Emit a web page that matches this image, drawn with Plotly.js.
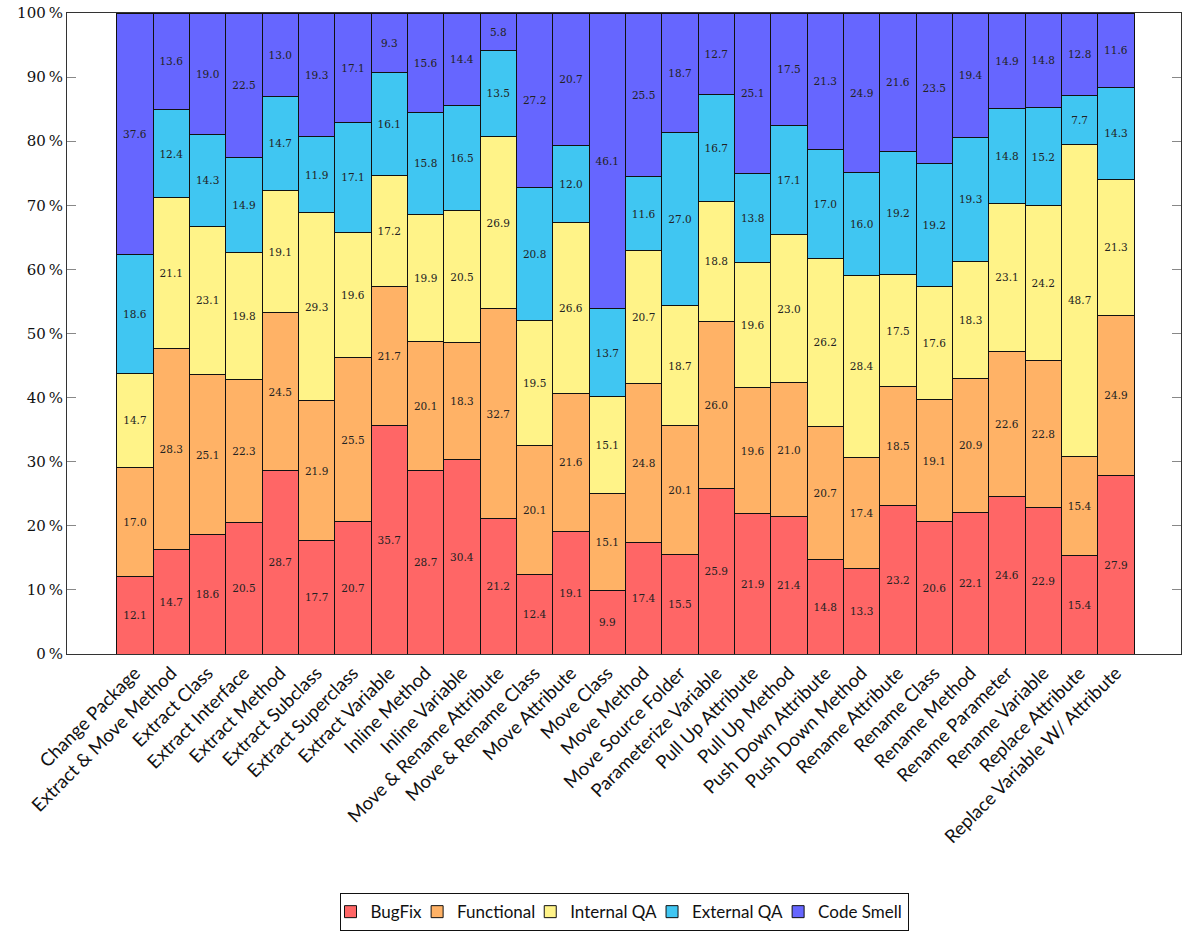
<!DOCTYPE html>
<html>
<head>
<meta charset="utf-8">
<script src="https://cdn.plot.ly/plotly-3.0.1.min.js"></script>
<style>html,body{margin:0;padding:0;background:#fff;}#chart{width:1182px;height:934px;}</style>
</head>
<body>
<div id="chart"></div>
<script>
const categories = ["Change Package","Extract & Move Method","Extract Class","Extract Interface","Extract Method","Extract Subclass","Extract Superclass","Extract Variable","Inline Method","Inline Variable","Move & Rename Attribute","Move & Rename Class","Move Attribute","Move Class","Move Method","Move Source Folder","Parameterize Variable","Pull Up Attribute","Pull Up Method","Push Down Attribute","Push Down Method","Rename Attribute","Rename Class","Rename Method","Rename Parameter","Rename Variable","Replace Attribute","Replace Variable W/ Attribute"];
const bugFix     = [12.1,14.7,18.6,20.5,28.7,17.7,20.7,35.7,28.7,30.4,21.2,12.4,19.1, 9.9,17.4,15.5,25.9,21.9,21.4,14.8,13.3,23.2,20.6,22.1,24.6,22.9,15.4,27.9];
const functional = [17.0,28.3,25.1,22.3,24.5,21.9,25.5,21.7,20.1,18.3,32.7,20.1,21.6,15.1,24.8,20.1,26.0,19.6,21.0,20.7,17.4,18.5,19.1,20.9,22.6,22.8,15.4,24.9];
const internalQA = [14.7,21.1,23.1,19.8,19.1,29.3,19.6,17.2,19.9,20.5,26.9,19.5,26.6,15.1,20.7,18.7,18.8,19.6,23.0,26.2,28.4,17.5,17.6,18.3,23.1,24.2,48.7,21.3];
const externalQA = [18.6,12.4,14.3,14.9,14.7,11.9,17.1,16.1,15.8,16.5,13.5,20.8,12.0,13.7,11.6,27.0,16.7,13.8,17.1,17.0,16.0,19.2,19.2,19.3,14.8,15.2, 7.7,14.3];
const codeSmell  = [37.6,13.6,19.0,22.5,13.0,19.3,17.1, 9.3,15.6,14.4, 5.8,27.2,20.7,46.1,25.5,18.7,12.7,25.1,17.5,21.3,24.9,21.6,23.5,19.4,14.9,14.8,12.8,11.6];
const seriesNames = ["BugFix","Functional","Internal QA","External QA","Code Smell"];
const seriesColors = ["#ff6666","#ffb266","#fff388","#40c6f2","#6666ff"];
const seriesValues = [bugFix, functional, internalQA, externalQA, codeSmell];

const traces = seriesValues.map((vals, i) => ({
  type: 'bar',
  name: seriesNames[i],
  x: categories,
  y: vals,
  text: vals.map(v => v.toFixed(1)),
  texttemplate: '%{text}',
  textposition: 'inside',
  insidetextanchor: 'middle',
  textangle: 0,
  constraintext: 'none',
  textfont: {family: 'DejaVu Serif', size: 10.5, color: '#222'},
  marker: {color: seriesColors[i], line: {color: '#111', width: 1}},
  hoverinfo: 'none'
}));

const layout = {
  width: 1182, height: 934,
  margin: {l: 67, r: 1, t: 13, b: 280},
  barmode: 'stack',
  barnorm: 'percent',
  bargap: 0,
  paper_bgcolor: '#fff', plot_bgcolor: '#fff',
  showlegend: true,
  legend: {
    orientation: 'h', x: 0.5, xanchor: 'center', y: -0.373, yanchor: 'top',
    traceorder: 'normal',
    bordercolor: '#111', borderwidth: 1,
    font: {family: 'Lato', size: 17, color: '#111'},
    itemwidth: 30,
    indentation: -10
  },
  xaxis: {
    type: 'category',
    range: [-1.87, 28.79],
    tickangle: -45,
    ticks: '',
    showline: true, mirror: true, linecolor: '#333', linewidth: 1,
    showgrid: false, zeroline: false,
    tickfont: {family: 'Lato', size: 18.5, color: '#111'}
  },
  yaxis: {
    range: [0, 100],
    dtick: 10,
    ticksuffix: '\u2009%',
    ticks: 'inside', ticklen: 9, tickcolor: '#888', tickwidth: 1,
    showline: true, mirror: 'ticks', linecolor: '#333', linewidth: 1,
    showgrid: false, zeroline: false,
    tickfont: {family: 'DejaVu Serif', size: 15, color: '#111'}
  }
};

Plotly.newPlot('chart', traces, layout, {staticPlot: true, displayModeBar: false});
</script>
</body>
</html>
